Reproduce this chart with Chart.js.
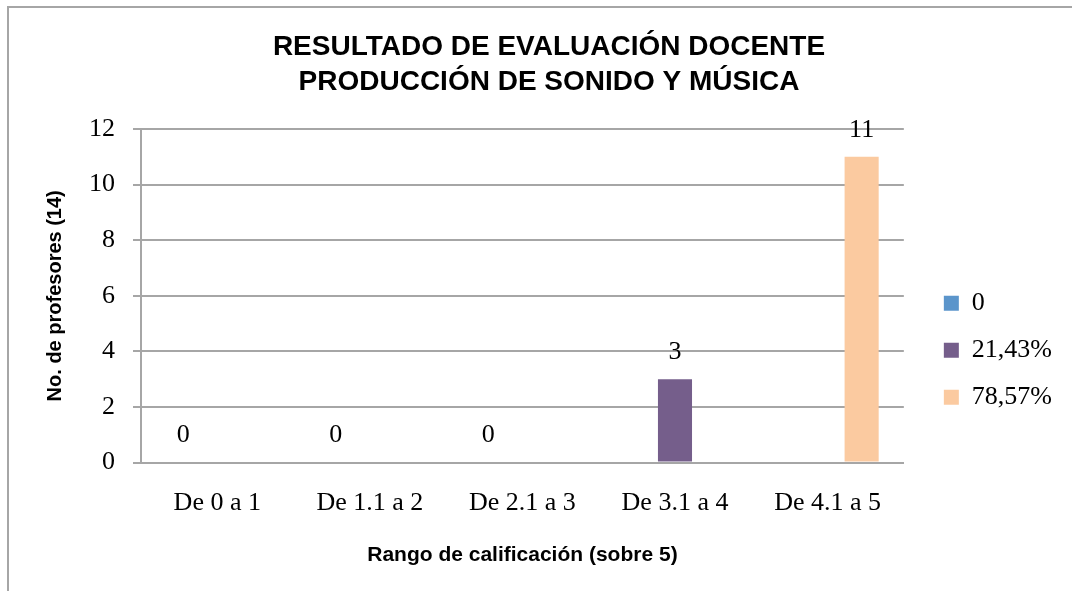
<!DOCTYPE html>
<html>
<head>
<meta charset="utf-8">
<script src="https://cdn.jsdelivr.net/npm/chart.js@4"></script>
<style>
  body { margin: 0; background: #fff; overflow: hidden; }
  #marco {
    position: absolute; left: 7px; top: 6px; width: 1200px; height: 700px;
    border-left: 2px solid #a6a6a6; border-top: 2px solid #a6a6a6;
  }
  #contenedor { position: absolute; left: 0; top: 0; width: 1072px; height: 591px; }
</style>
</head>
<body>
<div id="marco"></div>
<div id="contenedor"><canvas id="myChart" width="1072" height="591"></canvas></div>
<script>
const categorias = ["De 0 a 1", "De 1.1 a 2", "De 2.1 a 3", "De 3.1 a 4", "De 4.1 a 5"];
const serieNombres = ["0", "21,43%", "78,57%"];
const serie0 = [0, 0, 0, null, null];
const serie2143 = [null, null, null, 3, null];
const serie7857 = [null, null, null, null, 11];
const colores = ["#5b95cb", "#755e8b", "#fbcaa0"];

const titulo = ["RESULTADO DE EVALUACIÓN DOCENTE", "PRODUCCIÓN DE SONIDO Y MÚSICA"];
const tituloY = "No. de profesores (14)";
const tituloX = "Rango de calificación (sobre 5)";

const serif = "'Liberation Serif', serif";
const sans = "'Liberation Sans', Arial, sans-serif";
const gris = "#a6a6a6";

// etiquetas de valor encima de cada barra
const etiquetas = {
  id: "etiquetas",
  afterDatasetsDraw(chart) {
    const ctx = chart.ctx;
    ctx.save();
    ctx.font = "26px " + serif;
    ctx.fillStyle = "#000";
    ctx.textAlign = "center";
    ctx.textBaseline = "middle";
    chart.data.datasets.forEach((ds, i) => {
      const meta = chart.getDatasetMeta(i);
      meta.data.forEach((bar, j) => {
        if (ds.data[j] === null) return;
        ctx.fillText(ds.data[j], bar.x, bar.y - 27);
      });
    });
    ctx.restore();
  },
};

const ctx = document.getElementById("myChart").getContext("2d");
const myChart = new Chart(ctx, {
  type: "bar",
  data: {
    labels: categorias,
    datasets: [
      { label: serieNombres[0], data: serie0, backgroundColor: colores[0] },
      { label: serieNombres[1], data: serie2143, backgroundColor: colores[1] },
      { label: serieNombres[2], data: serie7857, backgroundColor: colores[2] },
    ],
  },
  options: {
    responsive: false,
    animation: false,
    categoryPercentage: 0.67,
    barPercentage: 1,
    layout: { padding: { left: 36, right: 10, top: 0, bottom: 23 } },
    plugins: {
      tooltip: { enabled: false },
      title: {
        display: true,
        text: titulo,
        color: "#000",
        font: { family: sans, size: 28, weight: "bold", lineHeight: 1.25 },
        padding: { top: 30, bottom: 29 },
      },
      legend: {
        position: "right",
        title: { display: true, text: "", padding: { top: 118, bottom: 0 } },
        labels: {
          boxWidth: 15,
          boxHeight: 15,
          padding: 21,
          color: "#000",
          font: { family: serif, size: 26 },
        },
      },
    },
    scales: {
      x: {
        grid: { display: false, drawTicks: false },
        border: { display: true, color: gris, width: 2 },
        ticks: { color: "#000", font: { family: serif, size: 26 }, padding: 24.5, maxRotation: 0 },
        title: {
          display: true,
          text: tituloX,
          color: "#000",
          font: { family: sans, size: 21, weight: "bold" },
          padding: { top: 0, bottom: 0 },
        },
      },
      y: {
        min: 0,
        max: 12,
        ticks: { stepSize: 2, color: "#000", font: { family: serif, size: 26 }, padding: 18 },
        grid: { color: gris, lineWidth: 2, tickLength: 8 },
        border: { color: gris, width: 2 },
        title: {
          display: true,
          text: tituloY,
          color: "#000",
          font: { family: sans, size: 20, weight: "bold" },
          padding: { top: 7, bottom: 0 },
        },
        afterFit(scale) {
          scale.width = 105;
        },
      },
      y2: {
        position: "right",
        ticks: { display: false },
        grid: { display: false },
        border: { display: false },
        afterFit(scale) {
          scale.width = 19;
        },
      },
    },
  },
  plugins: [etiquetas],
});
</script>
</body>
</html>
